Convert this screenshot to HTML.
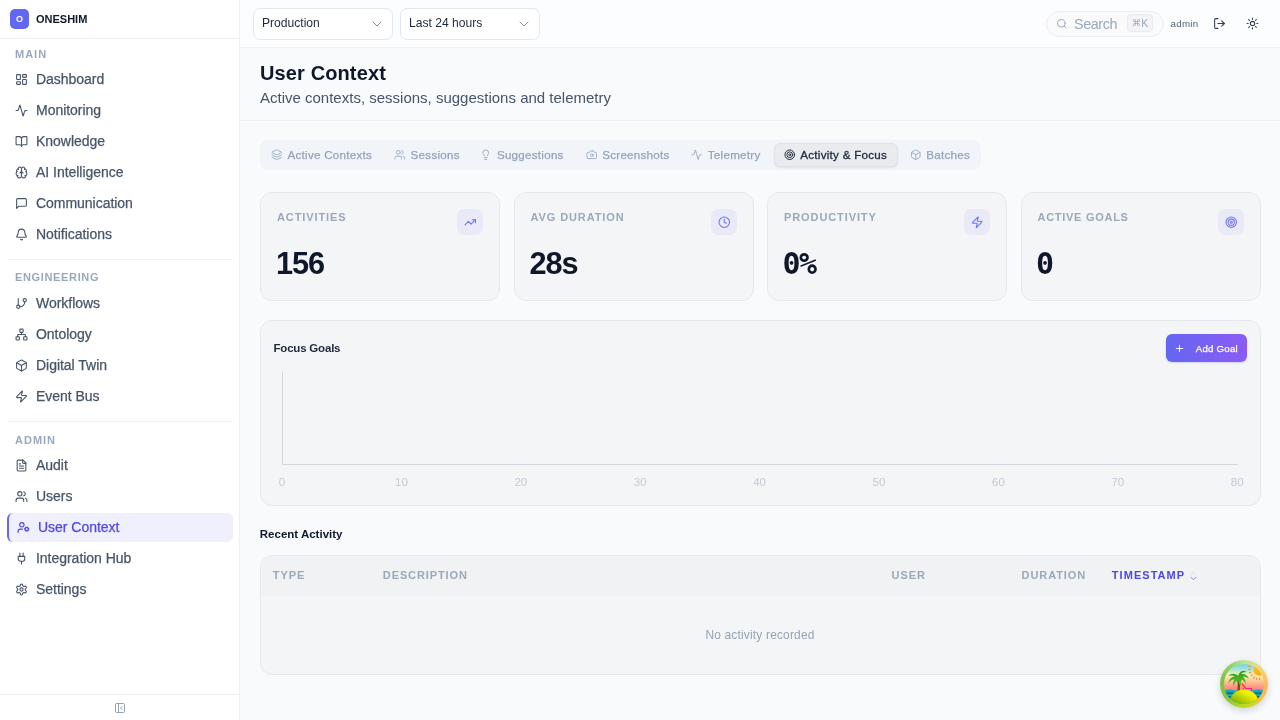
<!DOCTYPE html>
<html lang="en">
<head>
<meta charset="utf-8">
<title>User Context - ONESHIM</title>
<style>
*{box-sizing:border-box;margin:0;padding:0}
html,body{width:1280px;height:720px;overflow:hidden}
body{font-family:"Liberation Sans",sans-serif;background:#f8fafc;color:#0f172a;position:relative;-webkit-font-smoothing:antialiased}
#wrap{position:absolute;left:0;top:0;width:1280px;height:720px;will-change:transform}
svg{display:block}
.ico{fill:none;stroke:currentColor;stroke-width:2;stroke-linecap:round;stroke-linejoin:round}

/* sidebar */
#side{position:absolute;left:0;top:0;width:240px;height:720px;background:#fff;border-right:1px solid #ecf0f6}
#brand{position:absolute;left:0;top:0;width:239px;height:39px;border-bottom:1px solid #edf1f6}
#logo{position:absolute;left:10px;top:9px;width:19px;height:20px;border-radius:5px;background:#6366f1;color:#fff;font-size:9px;font-weight:700;text-align:center;line-height:21px}
#bname{position:absolute;left:36px;top:12px;font-size:11px;font-weight:700;line-height:14px;color:#0f172a;letter-spacing:0}
.sec{position:absolute;left:15px;font-size:11px;font-weight:700;letter-spacing:1px;color:#9aa8bc;line-height:14px}
.nav{position:absolute;left:7px;width:226px;height:29px;color:#475569;font-size:14px;letter-spacing:-.03px;line-height:28.6px;border-radius:5px}
.nav svg{position:absolute;left:8px;top:8px;width:13px;height:13px;color:#475569}
.nav span{position:absolute;left:29px;top:0;white-space:nowrap}
.nav.on{background:#efeffd;color:#4f46e5;border-left:2px solid #6366f1;border-radius:6px}
.nav.on svg{color:#4f46e5;left:8px}
.nav.on span{left:29px}
.div{position:absolute;left:7px;width:226px;height:1px;background:#edf1f6}
#sfoot{position:absolute;left:0;top:694px;width:239px;height:26px;border-top:1px solid #edf1f6}
#sfoot svg{position:absolute;left:113.5px;top:6.8px;width:12px;height:12px;color:#94a3b8}

/* topbar */
#top{position:absolute;left:240px;top:0;width:1040px;height:48px;background:#fcfdfe;border-bottom:1px solid #eef2f7}
.sel{position:absolute;top:8px;width:140px;height:32px;border:1px solid #e2e8f0;border-radius:7px;background:#fff;font-size:12.1px;color:#1e293b;line-height:28.5px;padding-left:8px}
.sel svg{position:absolute;left:114.9px;top:6.6px;width:16px;height:16px;color:#7b8899;stroke-width:1.4}
#search{position:absolute;left:806px;top:11px;width:118px;height:26px;border:1px solid #eceef1;border-radius:13px;background:#fafafb}
#search svg{position:absolute;left:9.3px;top:6.2px;width:11.5px;height:11.5px;color:#9aa8bc}
#search .t{position:absolute;left:27px;top:-.4px;line-height:24px;letter-spacing:-.42px;font-size:14.4px;color:#9aa8bc}
#search .k{position:absolute;left:80px;top:1.8px;width:26px;height:18.5px;border:1px solid #e7eaef;border-radius:4px;background:#f3f4f7;font-size:10.5px;color:#9aa8bc;text-align:center;line-height:16px;letter-spacing:.2px}
#search .k i{font-style:normal;font-size:8.5px;position:relative;top:-.8px;margin-right:.5px}
#uname{position:absolute;left:930.5px;top:17.2px;font-size:9.7px;letter-spacing:.33px;line-height:14px;color:#526074}
.tb{position:absolute;top:17px;width:13px;height:13px;color:#334155}

/* main */
#ttl{position:absolute;left:260px;top:61px;font-size:20px;font-weight:700;letter-spacing:.12px;line-height:24px;color:#0f172a;white-space:nowrap}
#sub{position:absolute;left:260px;top:89px;font-size:15px;line-height:18px;color:#475569;white-space:nowrap}
#hline{position:absolute;left:240px;top:120px;width:1040px;height:1px;background:#eef2f6}
#tabs{position:absolute;left:260px;top:140px;width:721px;height:30px;border-radius:8px;background:#f1f5f9}
.tab{position:absolute;top:.3px;height:30px;line-height:30px;letter-spacing:.27px;font-size:11.6px;color:#94a3b8;white-space:nowrap}
.tab svg{position:absolute;left:-16.6px;top:9.2px;width:11.5px;height:11.5px;color:#9eacbf}
#tact{position:absolute;left:513.6px;top:3px;width:124px;height:23.6px;border-radius:6px;background:#e9ebef;border:1px solid #dfe3e9;box-shadow:0 1px 2px rgba(15,23,42,.08)}
.tab.on{color:#1e293b}
.tab.on svg{color:#1e293b}
.card{position:absolute;background:#f4f5f7;border:1px solid #e6e8ec;border-radius:12px}
.stat{top:192px;width:240.2px;height:108.5px}
.stat .l{position:absolute;left:16px;top:17px;font-size:11px;font-weight:700;letter-spacing:.9px;color:#9aa8bc;line-height:14px;white-space:nowrap}
.stat .i{position:absolute;left:196.4px;top:16px;width:26px;height:26px;border-radius:7.5px;background:#e9e9f8}
.stat .i svg{position:absolute;left:6.75px;top:6.9px;width:12.5px;height:12.5px;color:#6d73f4}
.stat .v{position:absolute;left:15px;top:52.6px;font-weight:700;font-size:30.7px;line-height:36px;letter-spacing:-1.05px;color:#0f172a;white-space:nowrap}
.stat .v.m{font-family:"DejaVu Sans Mono","Liberation Mono",monospace;font-size:30px;letter-spacing:-1.6px;left:14.5px;top:52.6px}
#fg{left:260px;top:320px;width:1000.7px;height:185.5px}
.h3{position:absolute;font-size:11.5px;font-weight:700;letter-spacing:-.2px;line-height:16px;color:#1e293b;white-space:nowrap}
#add{position:absolute;left:1166.3px;top:334px;width:80.4px;height:27.8px;border-radius:6px;background:linear-gradient(90deg,#6366f1 0%,#7a60f3 55%,#8c5bf6 100%);box-shadow:0 1px 2px rgba(99,102,241,.22);color:#fff;font-size:9.7px;letter-spacing:.22px;line-height:27.8px}
#add svg{position:absolute;left:8px;top:9px;width:11px;height:11px}
#add span{position:absolute;left:29.5px;top:.9px;white-space:nowrap}
#yax{position:absolute;left:282px;top:372px;width:1px;height:92px;background:#d4d8de}
#xax{position:absolute;left:282px;top:464px;width:956px;height:1px;background:#d4d8de}
.tk{position:absolute;top:475px;width:40px;margin-left:-20px;text-align:center;font-size:11.5px;line-height:14px;color:#c3cad4}
#tbl{left:260px;top:555px;width:1000.7px;height:119.5px;overflow:hidden}
#thead{position:absolute;left:0;top:0;width:100%;height:40px;background:#f1f2f4}
.th{position:absolute;top:568px;font-size:11px;font-weight:700;letter-spacing:.9px;color:#9aa8bc;line-height:14px;white-space:nowrap}
#empty{position:absolute;left:660px;top:627px;width:200px;text-align:center;font-size:11.9px;letter-spacing:.2px;line-height:16px;color:#94a3b8}
#fab{position:absolute;left:1220px;top:660px;width:48px;height:48px;border-radius:50%;box-shadow:0 3px 7px rgba(15,23,42,.16);background:conic-gradient(from 0deg,#bfe39a 0deg,#dfe087 30deg,#f6d36b 55deg,#f9b660 95deg,#eec24f 130deg,#c9d92e 160deg,#b3d824 190deg,#86c43a 235deg,#7cc445 280deg,#96d26a 325deg,#bfe39a 360deg)}
.nav span,.tab,#add span{-webkit-text-stroke:.25px currentColor}
.tab.on{-webkit-text-stroke:.3px currentColor}
</style>
</head>
<body>
<div id="wrap">

<div id="side">
  <div id="brand"><div id="logo">O</div><div id="bname">ONESHIM</div></div>
  <div class="sec" style="top:47px">MAIN</div>
  <div class="nav" style="top:65px"><svg class="ico" viewBox="0 0 24 24"><rect x="3" y="3" width="7" height="9" rx="1"/><rect x="14" y="3" width="7" height="5" rx="1"/><rect x="14" y="12" width="7" height="9" rx="1"/><rect x="3" y="16" width="7" height="5" rx="1"/></svg><span>Dashboard</span></div>
  <div class="nav" style="top:96px"><svg class="ico" viewBox="0 0 24 24"><path d="M22 12h-2.48a2 2 0 0 0-1.93 1.46l-2.35 8.36a.25.25 0 0 1-.48 0L9.24 2.18a.25.25 0 0 0-.48 0l-2.35 8.36A2 2 0 0 1 4.49 12H2"/></svg><span>Monitoring</span></div>
  <div class="nav" style="top:127px"><svg class="ico" viewBox="0 0 24 24"><path d="M12 7v14"/><path d="M3 18a1 1 0 0 1-1-1V4a1 1 0 0 1 1-1h5a4 4 0 0 1 4 4 4 4 0 0 1 4-4h5a1 1 0 0 1 1 1v13a1 1 0 0 1-1 1h-6a3 3 0 0 0-3 3 3 3 0 0 0-3-3z"/></svg><span>Knowledge</span></div>
  <div class="nav" style="top:158px"><svg class="ico" viewBox="0 0 24 24"><path d="M12 5a3 3 0 1 0-5.997.125 4 4 0 0 0-2.526 5.77 4 4 0 0 0 .556 6.588A4 4 0 1 0 12 18Z"/><path d="M12 5a3 3 0 1 1 5.997.125 4 4 0 0 1 2.526 5.77 4 4 0 0 1-.556 6.588A4 4 0 1 1 12 18Z"/><path d="M15 13a4.5 4.5 0 0 1-3-4 4.5 4.5 0 0 1-3 4"/><path d="M17.599 6.5a3 3 0 0 0 .399-1.375"/><path d="M6.003 5.125A3 3 0 0 0 6.401 6.5"/><path d="M3.477 10.896a4 4 0 0 1 .585-.396"/><path d="M19.938 10.5a4 4 0 0 1 .585.396"/><path d="M6 18a4 4 0 0 1-1.967-.516"/><path d="M19.967 17.484A4 4 0 0 1 18 18"/></svg><span>AI Intelligence</span></div>
  <div class="nav" style="top:189px"><svg class="ico" viewBox="0 0 24 24"><path d="M21 15a2 2 0 0 1-2 2H7l-4 4V5a2 2 0 0 1 2-2h14a2 2 0 0 1 2 2z"/></svg><span>Communication</span></div>
  <div class="nav" style="top:220px"><svg class="ico" viewBox="0 0 24 24"><path d="M10.268 21a2 2 0 0 0 3.464 0"/><path d="M3.262 15.326A1 1 0 0 0 4 17h16a1 1 0 0 0 .74-1.673C19.41 13.956 18 12.499 18 8A6 6 0 0 0 6 8c0 4.499-1.411 5.956-2.738 7.326"/></svg><span>Notifications</span></div>
  <div class="div" style="top:259px"></div>
  <div class="sec" style="top:270px;letter-spacing:.65px">ENGINEERING</div>
  <div class="nav" style="top:289px"><svg class="ico" viewBox="0 0 24 24"><path d="M6 3v12"/><circle cx="18" cy="6" r="3"/><circle cx="6" cy="18" r="3"/><path d="M18 9a9 9 0 0 1-9 9"/></svg><span>Workflows</span></div>
  <div class="nav" style="top:320px"><svg class="ico" viewBox="0 0 24 24"><rect x="16" y="16" width="6" height="6" rx="1"/><rect x="2" y="16" width="6" height="6" rx="1"/><rect x="9" y="2" width="6" height="6" rx="1"/><path d="M5 16v-3a1 1 0 0 1 1-1h12a1 1 0 0 1 1 1v3"/><path d="M12 12V8"/></svg><span>Ontology</span></div>
  <div class="nav" style="top:351px"><svg class="ico" viewBox="0 0 24 24"><path d="M21 8a2 2 0 0 0-1-1.73l-7-4a2 2 0 0 0-2 0l-7 4A2 2 0 0 0 3 8v8a2 2 0 0 0 1 1.73l7 4a2 2 0 0 0 2 0l7-4A2 2 0 0 0 21 16Z"/><path d="m3.3 7 8.7 5 8.7-5"/><path d="M12 22V12"/></svg><span>Digital Twin</span></div>
  <div class="nav" style="top:382px"><svg class="ico" viewBox="0 0 24 24"><path d="M4 14a1 1 0 0 1-.78-1.63l9.9-10.2a.5.5 0 0 1 .86.46l-1.92 6.02A1 1 0 0 0 13 10h7a1 1 0 0 1 .78 1.63l-9.9 10.2a.5.5 0 0 1-.86-.46l1.92-6.02A1 1 0 0 0 11 14z"/></svg><span>Event Bus</span></div>
  <div class="div" style="top:421px"></div>
  <div class="sec" style="top:433px">ADMIN</div>
  <div class="nav" style="top:451px"><svg class="ico" viewBox="0 0 24 24"><path d="M15 2H6a2 2 0 0 0-2 2v16a2 2 0 0 0 2 2h12a2 2 0 0 0 2-2V7Z"/><path d="M14 2v4a2 2 0 0 0 2 2h4"/><path d="M10 9H8"/><path d="M16 13H8"/><path d="M16 17H8"/></svg><span>Audit</span></div>
  <div class="nav" style="top:482px"><svg class="ico" viewBox="0 0 24 24"><path d="M16 21v-2a4 4 0 0 0-4-4H6a4 4 0 0 0-4 4v2"/><circle cx="9" cy="7" r="4"/><path d="M22 21v-2a4 4 0 0 0-3-3.87"/><path d="M16 3.13a4 4 0 0 1 0 7.75"/></svg><span>Users</span></div>
  <div class="nav on" style="top:513px"><svg class="ico" viewBox="0 0 24 24"><circle cx="18" cy="15" r="3"/><circle cx="9" cy="7" r="4"/><path d="M10 15H6a4 4 0 0 0-4 4v2"/><path d="m21.7 16.4-.9-.3"/><path d="m15.2 13.9-.9-.3"/><path d="m16.6 18.7.3-.9"/><path d="m19.1 12.2.3-.9"/><path d="m19.6 18.7-.4-1"/><path d="m16.8 12.3-.4-1"/><path d="m14.3 16.6 1-.4"/><path d="m20.7 13.8 1-.4"/></svg><span>User Context</span></div>
  <div class="nav" style="top:544px"><svg class="ico" viewBox="0 0 24 24"><path d="M12 22v-5"/><path d="M9 8V2"/><path d="M15 8V2"/><path d="M18 8v5a4 4 0 0 1-4 4h-4a4 4 0 0 1-4-4V8Z"/></svg><span>Integration Hub</span></div>
  <div class="nav" style="top:575px"><svg class="ico" viewBox="0 0 24 24"><path d="M12.22 2h-.44a2 2 0 0 0-2 2v.18a2 2 0 0 1-1 1.73l-.43.25a2 2 0 0 1-2 0l-.15-.08a2 2 0 0 0-2.73.73l-.22.38a2 2 0 0 0 .73 2.73l.15.1a2 2 0 0 1 1 1.72v.51a2 2 0 0 1-1 1.74l-.15.09a2 2 0 0 0-.73 2.73l.22.38a2 2 0 0 0 2.73.73l.15-.08a2 2 0 0 1 2 0l.43.25a2 2 0 0 1 1 1.73V20a2 2 0 0 0 2 2h.44a2 2 0 0 0 2-2v-.18a2 2 0 0 1 1-1.73l.43-.25a2 2 0 0 1 2 0l.15.08a2 2 0 0 0 2.73-.73l.22-.39a2 2 0 0 0-.73-2.73l-.15-.08a2 2 0 0 1-1-1.74v-.5a2 2 0 0 1 1-1.74l.15-.09a2 2 0 0 0 .73-2.73l-.22-.38a2 2 0 0 0-2.73-.73l-.15.08a2 2 0 0 1-2 0l-.43-.25a2 2 0 0 1-1-1.73V4a2 2 0 0 0-2-2z"/><circle cx="12" cy="12" r="3"/></svg><span>Settings</span></div>
  <div id="sfoot"><svg class="ico" viewBox="0 0 24 24"><rect x="3" y="3" width="18" height="18" rx="2"/><path d="M9 3v18"/><path d="m16 15-3-3 3-3"/></svg></div>
</div>

<div id="top">
  <div class="sel" style="left:13px">Production<svg class="ico" viewBox="0 0 24 24"><path d="m6 9 6 6 6-6"/></svg></div>
  <div class="sel" style="left:160px">Last 24 hours<svg class="ico" viewBox="0 0 24 24"><path d="m6 9 6 6 6-6"/></svg></div>
  <div id="search"><svg class="ico" viewBox="0 0 24 24"><circle cx="11" cy="11" r="8"/><path d="m21 21-4.3-4.3"/></svg><span class="t">Search</span><span class="k"><i>&#8984;</i>K</span></div>
  <div id="uname">admin</div>
  <svg class="ico tb" style="left:973px" viewBox="0 0 24 24"><path d="M9 21H5a2 2 0 0 1-2-2V5a2 2 0 0 1 2-2h4"/><path d="m16 17 5-5-5-5"/><path d="M21 12H9"/></svg>
  <svg class="ico tb" style="left:1006px" viewBox="0 0 24 24"><circle cx="12" cy="12" r="4"/><path d="M12 2v2M12 20v2M4.93 4.93l1.41 1.41M17.66 17.66l1.41 1.41M2 12h2M20 12h2M6.34 17.66l-1.41 1.41M19.07 4.93l-1.41 1.41"/></svg>
</div>


<div id="ttl">User Context</div>
<div id="sub">Active contexts, sessions, suggestions and telemetry</div>
<div id="hline"></div>

<div id="tabs">
  <div id="tact"></div>
  <div class="tab" style="left:27.5px"><svg class="ico" viewBox="0 0 24 24"><path d="M12.83 2.18a2 2 0 0 0-1.66 0L2.6 6.08a1 1 0 0 0 0 1.83l8.58 3.91a2 2 0 0 0 1.66 0l8.58-3.9a1 1 0 0 0 0-1.83z"/><path d="M2 12a1 1 0 0 0 .58.91l8.6 3.91a2 2 0 0 0 1.65 0l8.58-3.9A1 1 0 0 0 22 12"/><path d="M2 17a1 1 0 0 0 .58.91l8.6 3.91a2 2 0 0 0 1.65 0l8.58-3.9A1 1 0 0 0 22 17"/></svg>Active Contexts</div>
  <div class="tab" style="left:150.6px"><svg class="ico" viewBox="0 0 24 24"><path d="M16 21v-2a4 4 0 0 0-4-4H6a4 4 0 0 0-4 4v2"/><circle cx="9" cy="7" r="4"/><path d="M22 21v-2a4 4 0 0 0-3-3.87"/><path d="M16 3.13a4 4 0 0 1 0 7.75"/></svg>Sessions</div>
  <div class="tab" style="left:236.9px"><svg class="ico" viewBox="0 0 24 24"><path d="M15 14c.2-1 .7-1.700 1.500-2.500 1-.9 1.500-2.200 1.500-3.500A6 6 0 0 0 6 8c0 1 .2 2.200 1.500 3.500.7.700 1.300 1.500 1.500 2.500"/><path d="M9 18h6"/><path d="M10 22h4"/></svg>Suggestions</div>
  <div class="tab" style="left:342.2px"><svg class="ico" viewBox="0 0 24 24"><path d="M14.500 4h-5L7 7H4a2 2 0 0 0-2 2v9a2 2 0 0 0 2 2h16a2 2 0 0 0 2-2V9a2 2 0 0 0-2-2h-3l-2.500-3z"/><circle cx="12" cy="13" r="3"/></svg>Screenshots</div>
  <div class="tab" style="left:447.8px"><svg class="ico" viewBox="0 0 24 24"><path d="M22 12h-2.480a2 2 0 0 0-1.930 1.460l-2.350 8.360a.25.25 0 0 1-.480 0L9.240 2.180a.25.25 0 0 0-.480 0l-2.350 8.360A2 2 0 0 1 4.490 12H2"/></svg>Telemetry</div>
  <div class="tab on" style="left:540.3px"><svg class="ico" viewBox="0 0 24 24"><circle cx="12" cy="12" r="10"/><circle cx="12" cy="12" r="6"/><circle cx="12" cy="12" r="2"/></svg>Activity &amp; Focus</div>
  <div class="tab" style="left:666.3px"><svg class="ico" viewBox="0 0 24 24"><path d="M21 8a2 2 0 0 0-1-1.730l-7-4a2 2 0 0 0-2 0l-7 4A2 2 0 0 0 3 8v8a2 2 0 0 0 1 1.730l7 4a2 2 0 0 0 2 0l7-4A2 2 0 0 0 21 16Z"/><path d="m3.300 7 8.700 5 8.700-5"/><path d="M12 22V12"/></svg>Batches</div>
</div>

<div class="card stat" style="left:260px"><div class="l">ACTIVITIES</div><div class="i"><svg class="ico" viewBox="0 0 24 24"><path d="M16 7h6v6"/><path d="m22 7-8.500 8.500-5-5L2 17"/></svg></div><div class="v">156</div></div>
<div class="card stat" style="left:513.5px"><div class="l">AVG DURATION</div><div class="i"><svg class="ico" viewBox="0 0 24 24"><circle cx="12" cy="12" r="10"/><path d="M12 6v6l4 2"/></svg></div><div class="v">28s</div></div>
<div class="card stat" style="left:767px"><div class="l">PRODUCTIVITY</div><div class="i"><svg class="ico" viewBox="0 0 24 24"><path d="M4 14a1 1 0 0 1-.78-1.630l9.900-10.200a.5.5 0 0 1 .860.460l-1.920 6.020A1 1 0 0 0 13 10h7a1 1 0 0 1 .780 1.630l-9.900 10.200a.5.5 0 0 1-.860-.460l1.920-6.020A1 1 0 0 0 11 14z"/></svg></div><div class="v m">0%</div></div>
<div class="card stat" style="left:1020.5px"><div class="l" style="letter-spacing:.72px">ACTIVE GOALS</div><div class="i"><svg class="ico" viewBox="0 0 24 24"><circle cx="12" cy="12" r="10"/><circle cx="12" cy="12" r="6"/><circle cx="12" cy="12" r="2"/></svg></div><div class="v m">0</div></div>

<div class="card" id="fg"></div>
<div class="h3" style="left:273.5px;top:340px">Focus Goals</div>
<div id="add"><svg class="ico" viewBox="0 0 24 24"><path d="M5 12h14"/><path d="M12 5v14"/></svg><span>Add Goal</span></div>
<div id="yax"></div><div id="xax"></div>
<div class="tk" style="left:282px">0</div><div class="tk" style="left:401.4px">10</div><div class="tk" style="left:520.8px">20</div><div class="tk" style="left:640.2px">30</div><div class="tk" style="left:759.6px">40</div><div class="tk" style="left:879px">50</div><div class="tk" style="left:998.4px">60</div><div class="tk" style="left:1117.8px">70</div><div class="tk" style="left:1237.2px">80</div>

<div class="h3" style="left:259.8px;top:526px;letter-spacing:0;color:#0f172a">Recent Activity</div>
<div class="card" id="tbl"><div id="thead"></div></div>
<div class="th" style="left:272.8px">TYPE</div>
<div class="th" style="left:382.8px">DESCRIPTION</div>
<div class="th" style="left:891.6px">USER</div>
<div class="th" style="left:1021.6px">DURATION</div>
<div class="th" style="left:1111.8px;color:#4f46e5;letter-spacing:1.05px">TIMESTAMP</div>
<svg class="ico" style="position:absolute;left:1188.8px;top:570px;width:9px;height:11px" viewBox="0 0 18 22"><path d="m4.500 8.500 4.500-4.500 4.500 4.500" stroke="#d3d7e0" stroke-width="1.800"/><path d="m4 14.500 5 5 5-5" stroke="#7f86f7" stroke-width="1.900"/></svg>
<div id="empty"><span>No activity recorded</span></div>

<div id="fab">
<svg width="48" height="48" viewBox="0 0 48 48">
<defs>
<linearGradient id="sky" gradientUnits="userSpaceOnUse" x1="0" y1="4" x2="0" y2="31"><stop offset="0" stop-color="#6fd3f2"/><stop offset=".2" stop-color="#a9e4dc"/><stop offset=".42" stop-color="#fbf2b0"/><stop offset=".62" stop-color="#fdc99c"/><stop offset=".85" stop-color="#fd9583"/><stop offset="1" stop-color="#fc8279"/></linearGradient>
<linearGradient id="isl" x1=".15" y1="1" x2=".8" y2="0"><stop offset="0" stop-color="#3f8a06"/><stop offset=".45" stop-color="#9cc40a"/><stop offset=".8" stop-color="#eef000"/><stop offset="1" stop-color="#fff700"/></linearGradient>
<linearGradient id="sun" x1="0" y1="0" x2="1" y2="1"><stop offset="0" stop-color="#ffc61a"/><stop offset="1" stop-color="#fb9f1c"/></linearGradient>
<linearGradient id="leaf" x1="0" y1="0" x2="0" y2="1"><stop offset="0" stop-color="#2f9e1a"/><stop offset="1" stop-color="#5cc72b"/></linearGradient>
<clipPath id="inner"><circle cx="24" cy="24" r="20"/></clipPath>
</defs>
<g clip-path="url(#inner)">
<rect x="0" y="0" width="48" height="48" fill="url(#sky)"/>
<circle cx="39.500" cy="9.500" r="6.200" fill="url(#sun)"/>
<g stroke="#f58a2c" stroke-width="1.100" stroke-linecap="round"><path d="M30.200 6.600l-1.400-.3"/><path d="M30.200 9.400l-1.500.2"/><path d="M30.800 12.200l-1.400.700"/><path d="M32.200 14.800l-1.100 1.100"/><path d="M34.300 16.800l-.7 1.300"/><path d="M36.800 18l-.3 1.400"/><path d="M39.500 18.400v1.400"/></g>
<g transform="translate(0 .7)"><path d="M4 29.800q5.500-2.200 12 0h16q6.500-2.200 12 0V44H4z" fill="#1aa7bd"/>
<path d="M4 32.400q5.500-1.600 12 0h16q6.500-1.600 12 0v1.800q-5.500-1.600-12 0H16q-6.500-1.600-12 0z" fill="#0b6c88"/>
<path d="M4 36q5.500-1.400 12 0h16q6.500-1.400 12 0v1.800q-5.500-1.400-12 0H16q-6.500-1.400-12 0z" fill="#0b6c88"/></g>
<path d="M17.300 31q.9-7.500-.5-14.800l2.200-.4q1.600 7.200 1.100 15.200z" fill="#8a4b12"/>
<g transform="translate(18.500 15.800) scale(1.120) translate(-18.500 -18.200)"><path d="M18.200 18.200c-2.600-2.400-6.200-2.600-8.700.2 2.400-.8 4.300-.5 5.700.5-3 .2-5.300 2.300-5.600 6.100 1.600-2.600 3.500-3.700 5.600-3.700-1.600 1.600-2.100 4-1.100 6.700.7-2.900 2-4.900 4.100-6 .1 2.200.9 4 2.600 5.200-.4-2.300-.1-4.200.6-5.700 1.500.7 2.700 2.200 3.300 4.500.7-3.100-.3-5.500-2.600-6.900 1.800-.4 3.700.1 5.600 1.700-1-3.300-3.500-4.700-6.700-4.200 1-1.300 2.600-1.900 4.700-1.700-2.700-2.200-6-1.100-7.500 3.300z" fill="url(#leaf)"/></g>
<g stroke="#ff1f8e" stroke-width="1.200" stroke-linecap="round" stroke-linejoin="round" fill="none"><path d="M22.200 24.200l3.600 4.300h5.800v1.800"/><path d="M23.400 28.500l-.6 2"/></g>
<path d="M22.200 24.200l2 2.400" stroke="#ff4a1c" stroke-width="1.300" stroke-linecap="round"/>
<ellipse cx="24" cy="41.500" rx="14" ry="12" fill="url(#isl)"/>
</g>
</svg></div>


</div>
</body>
</html>
